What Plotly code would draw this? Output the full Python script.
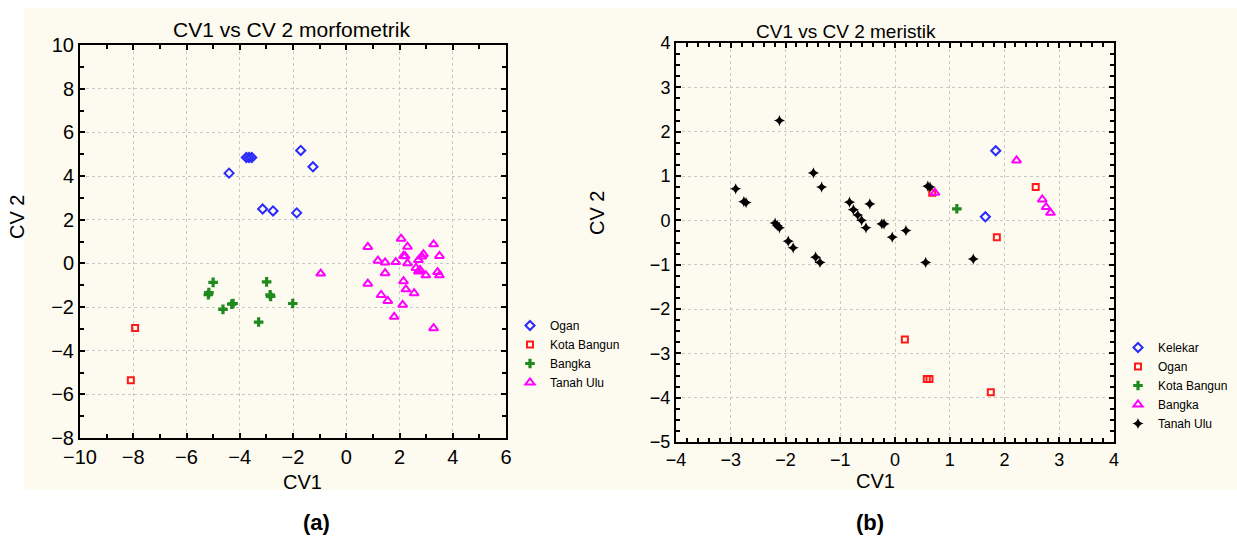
import plotly.graph_objects as go

W, H = 1237, 539

# ---------- (a) morfometrik ----------
ogan_a_x = [-4.4, -3.75, -3.65, -3.55, -1.71, -1.25, -3.14, -2.75, -1.86]
ogan_a_y = [4.13, 4.85, 4.85, 4.85, 5.17, 4.42, 2.49, 2.40, 2.31]
kota_a_x = [-7.93, -8.09]
kota_a_y = [-2.96, -5.35]
bangka_a_x = [-5.0, -5.16, -5.18, -4.63, -4.25, -4.3, -2.99, -2.86, -2.84, -3.29, -2.01]
bangka_a_y = [-0.87, -1.34, -1.44, -2.11, -1.84, -1.87, -0.85, -1.44, -1.52, -2.69, -1.84]
tanah_a_x = [-0.96, 0.81, 2.06, 2.3, 3.28, 2.15, 2.21, 1.19, 1.46, 1.86, 2.3, 2.9, 2.84, 2.71, 3.5,
             2.62, 2.77, 2.71, 2.99, 3.43, 3.5, 1.46, 0.81, 2.15, 2.24, 2.55, 1.31, 1.56, 2.12, 1.8, 3.28]
tanah_a_y = [-0.47, 0.75, 1.13, 0.76, 0.87, 0.34, 0.33, 0.12, 0.04, 0.06, 0.0, 0.42, 0.31, 0.15, 0.34,
             -0.21, -0.3, -0.37, -0.55, -0.4, -0.55, -0.45, -0.93, -0.82, -1.19, -1.37, -1.45, -1.72, -1.9, -2.45, -2.97]

# ---------- (b) meristik ----------
kelekar_b_x = [1.84, 1.65]
kelekar_b_y = [1.57, 0.08]
ogan_b_x = [0.68, 2.57, 1.86, 0.18, 0.58, 0.63, 1.75]
ogan_b_y = [0.62, 0.75, -0.38, -2.69, -3.58, -3.58, -3.88]
kota_b_x = [1.13]
kota_b_y = [0.26]
bangka_b_x = [0.73, 2.22, 2.69, 2.76, 2.84]
bangka_b_y = [0.62, 1.35, 0.47, 0.3, 0.17]
tanah_b_x = [-2.91, -2.76, -2.72, -2.11, -2.19, -2.15, -2.11, -1.95, -1.86, -1.49, -1.34, -1.45, -1.37,
             -0.83, -0.76, -0.68, -0.61, -0.53, -0.46, -0.24, -0.2, -0.05, 0.2, 0.56, 0.6, 0.64, 1.43]
tanah_b_y = [0.71, 0.42, 0.40, 2.25, -0.06, -0.12, -0.17, -0.47, -0.62, 1.07, 0.75, -0.83, -0.95,
             0.41, 0.24, 0.12, 0.0, -0.17, 0.37, -0.08, -0.08, -0.38, -0.23, -0.95, 0.77, 0.75, -0.87]

BLUE, RED, GREEN, MAG, BLACK = "#2a2aff", "#ff1a1a", "#1f8a1f", "#ff00ff", "#000000"

def px_x(p):
    return p / W

def px_y(p):
    return 1 - p / H

fig = go.Figure()

def add(x, y, name, sym, color, size, lw, xa, ya, legend):
    fig.add_trace(go.Scatter(
        x=x, y=y, mode="markers", name=name, xaxis=xa, yaxis=ya, legend=legend,
        marker=dict(symbol=sym, color=color, size=size, line=dict(color=color, width=lw)),
    ))

add(ogan_a_x, ogan_a_y, "Ogan", "diamond-open", BLUE, 7, 2, "x", "y", "legend")
add(kota_a_x, kota_a_y, "Kota Bangun", "square-open", RED, 6, 2, "x", "y", "legend")
add(bangka_a_x, bangka_a_y, "Bangka", "cross", GREEN, 8, 0, "x", "y", "legend")
add(tanah_a_x, tanah_a_y, "Tanah Ulu", "triangle-up-open", MAG, 8, 2, "x", "y", "legend")

add(kelekar_b_x, kelekar_b_y, "Kelekar", "diamond-open", BLUE, 7, 2, "x2", "y2", "legend2")
add(ogan_b_x, ogan_b_y, "Ogan", "square-open", RED, 6, 2, "x2", "y2", "legend2")
add(kota_b_x, kota_b_y, "Kota Bangun", "cross", GREEN, 8, 0, "x2", "y2", "legend2")
add(bangka_b_x, bangka_b_y, "Bangka", "triangle-up-open", MAG, 8, 2, "x2", "y2", "legend2")
add(tanah_b_x, tanah_b_y, "Tanah Ulu", "star-diamond", BLACK, 8, 0, "x2", "y2", "legend2")

axis_common = dict(
    showline=True, linecolor="black", linewidth=2, mirror="ticks",
    ticks="inside", ticklen=5, tickcolor="black", tickwidth=2,
    showgrid=True, gridcolor="#c8c8c8", griddash="dot", gridwidth=1,
    zeroline=False, fixedrange=True, automargin=False,
    tickfont=dict(family="Arial, Liberation Sans", size=20, color="black"),
)

fig.update_layout(
    width=W, height=H,
    margin=dict(l=0, r=0, t=0, b=0),
    paper_bgcolor="white", plot_bgcolor="white",
    font=dict(family="Arial, Liberation Sans", color="black"),
    xaxis=dict(axis_common, domain=[px_x(80), px_x(506)], range=[-10, 6], dtick=2, anchor="y",
               minor=dict(dtick=1, ticks="inside", ticklen=4, tickcolor="black", tickwidth=2, showgrid=False)),
    yaxis=dict(axis_common, domain=[px_y(438), px_y(45)], range=[-8, 10], dtick=2, anchor="x",
               minor=dict(dtick=1, ticks="inside", ticklen=4, tickcolor="black", tickwidth=2, showgrid=False)),
    xaxis2=dict(axis_common, domain=[px_x(676), px_x(1114)], range=[-4, 4], dtick=1, anchor="y2",
                tickfont=dict(family="Arial, Liberation Sans", size=18, color="black"),
                minor=dict(dtick=0.2, ticks="inside", ticklen=4, tickcolor="black", tickwidth=2, showgrid=False)),
    yaxis2=dict(axis_common, domain=[px_y(442), px_y(43)], range=[-5, 4], dtick=1, anchor="x2",
                tickfont=dict(family="Arial, Liberation Sans", size=18, color="black"),
                minor=dict(dtick=0.25, ticks="inside", ticklen=4, tickcolor="black", tickwidth=2, showgrid=False)),
    legend=dict(x=px_x(510), y=px_y(311), xanchor="left", yanchor="top",
                bgcolor="rgba(0,0,0,0)", font=dict(size=12, family="Arial, Liberation Sans"),
                tracegroupgap=0),
    legend2=dict(x=px_x(1118), y=px_y(333), xanchor="left", yanchor="top",
                 bgcolor="rgba(0,0,0,0)", font=dict(size=12, family="Arial, Liberation Sans"),
                 tracegroupgap=0),
    showlegend=True,
)

fig.add_shape(type="rect", xref="paper", yref="paper", layer="below",
              x0=px_x(24), x1=1, y0=px_y(490), y1=px_y(8),
              fillcolor="#fdfbef", line=dict(width=0))

def ann(text, x, y, size, angle=0, bold=False):
    fig.add_annotation(text=f"<b>{text}</b>" if bold else text, x=px_x(x), y=px_y(y),
                       xref="paper", yref="paper", showarrow=False, textangle=angle,
                       xanchor="center", yanchor="middle",
                       font=dict(size=size, family="Arial, Liberation Sans", color="black"))

ann("CV1 vs CV 2 morfometrik", 291, 30, 21)
ann("CV1 vs CV 2 meristik", 846, 31, 19)
ann("CV1", 302, 482, 20)
ann("CV1", 875, 481, 20)
ann("CV 2", 17, 217, 20, angle=-90)
ann("CV 2", 597, 213, 20, angle=-90)
ann("(a)", 316, 522, 22, bold=True)
ann("(b)", 870, 522, 22, bold=True)

fig.write_html("out.html")
